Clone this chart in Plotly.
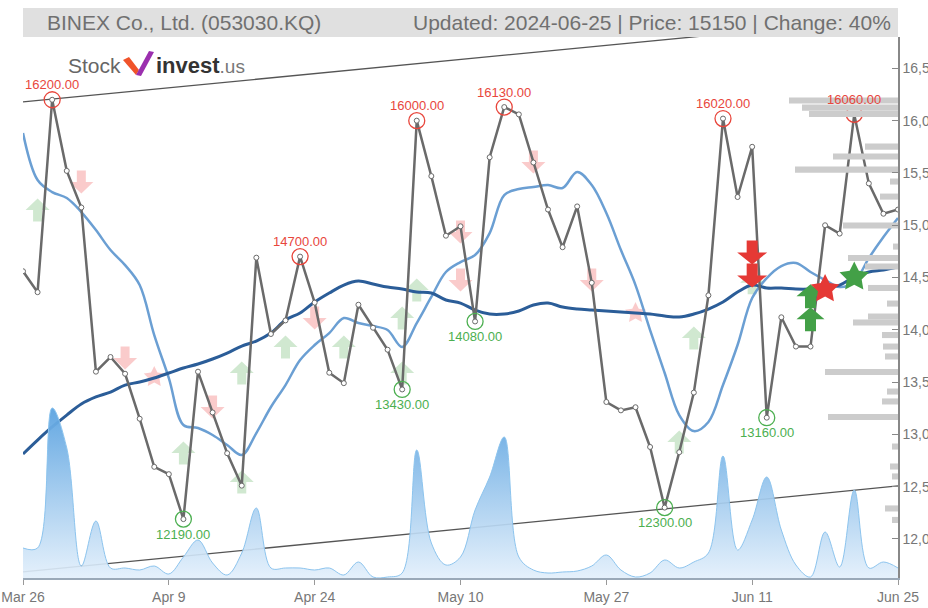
import math
import plotly.graph_objects as go

# ---------------- data ----------------
tick_labels = ["Mar 26", "Apr 9", "Apr 24", "May 10", "May 27", "Jun 11", "Jun 25"]
tick_idx = [0, 10, 20, 30, 40, 50, 60]

close = [14560, 14360, 16200, 15520, 15170, 13600, 13740, 13580, 13150, 12690,
         12620, 12190, 13600, 13210, 12820, 12510, 14690, 13960, 14090, 14700,
         14260, 13590, 13490, 14240, 14020, 13810, 13430, 16000, 15470, 14900,
         14990, 14080, 15650, 16130, 16060, 15600, 15150, 14790, 15180, 14450,
         13310, 13230, 13260, 12880, 12300, 12830, 13400, 14330, 16020, 15270,
         15750, 13160, 14120, 13840, 13840, 15000, 14920, 16060, 15400, 15110,
         15150]

ma_short = [15881, 15432, 15317, 15260, 15126, 14954, 14763, 14619, 14428, 13950,
            13539, 13090, 13061, 12994, 12899, 12803, 13013, 13262, 13472, 13711,
            13855, 13969, 14113, 14065, 14036, 13998, 13836, 14065, 14314, 14553,
            14648, 14715, 14925, 15289, 15346, 15365, 15384, 15356, 15509, 15384,
            15117, 14763, 14428, 13998, 13587, 13185, 13032, 13119, 13472, 13855,
            14304, 14495, 14610, 14639, 14553, 14476, 14409, 14457, 14686, 14887,
            15069]

ma_long = [12813, 12946, 13071, 13185, 13291, 13358, 13405, 13472, 13501, 13539,
           13587, 13635, 13673, 13721, 13778, 13845, 13893, 13969, 14094, 14161,
           14266, 14352, 14428, 14466, 14438, 14409, 14390, 14361, 14352, 14285,
           14256, 14189, 14151, 14151, 14180, 14237, 14256, 14218, 14199, 14189,
           14180, 14170, 14161, 14151, 14132, 14122, 14151, 14199, 14266, 14361,
           14428, 14400, 14400, 14390, 14390, 14400, 14428, 14505, 14553, 14572,
           14600]

volume = [300, 300, 1700, 1300, 120, 570, 100, 100, 80, 120,
          40, 210, 380, 150, 30, 250, 700, 100, 100, 100,
          80, 100, 30, 160, 10, 10, 50, 1280, 350, 130,
          210, 680, 1010, 1410, 210, 80, 50, 60, 70, 120,
          230, 80, 10, 50, 180, 100, 160, 250, 1220, 280,
          580, 1010, 480, 130, 10, 460, 110, 880, 100, 160,
          100]

profile_prices = [16192, 16125, 16063, 15752, 15657, 15532, 15418, 15274, 14997, 14796,
                  14686, 14605, 14400, 14251, 14127, 14070, 13950, 13840, 13745, 13597,
                  13410, 13315, 13166, 12884, 12693, 12598, 12292, 12182]
profile_vols = [4360, 3840, 3560, 1320, 2600, 4120, 320, 720, 2200, 200,
                2000, 1320, 1200, 440, 1200, 1800, 640, 600, 520, 2920,
                440, 640, 2800, 240, 320, 240, 520, 240]

highs_idx = [2, 19, 27, 33, 48, 57]
lows_idx = [11, 26, 31, 44, 51]

trend_x = [0, 60]
trend_upper = [16180, 16990]
trend_lower = [11685, 12507]

pale_up_x = [1, 11, 15, 15, 18, 22, 26, 27, 26, 46, 45, 50]
pale_up_y = [15145, 12822, 13587, 12545, 13836, 13836, 14113, 14380, 13587, 13922, 12927, 14450]
pale_down_x = [4, 7, 13, 20, 30, 30, 35, 39]
pale_down_y = [15413, 13730, 13262, 14113, 14935, 14476, 15604, 14476]
pale_star_x = [9, 42]
pale_star_y = [13549, 14160]
sell_x = [50, 50]
sell_y = [14740, 14520]
buy_x = [54, 54]
buy_y = [14320, 14100]
sell_star_x = [55]
sell_star_y = [14390]
buy_star_x = [57]
buy_star_y = [14505]

# ---------------- layout geometry ----------------
W, H = 928, 608
L, R, T, B = 23, 30, 37, 30
PW, PH = W - L - R, H - T - B


def px(x):
    return (x - L) / PW


def py(y):
    return (H - B - y) / PH


def poly(pts):
    return "M" + " L".join(f"{a:.2f},{b:.2f}" for a, b in pts) + " Z"


def arrow_path(w, h, shaft, up=True):
    hw, hh = w / 2, h / 2
    head = h * 0.5
    s = shaft / 2
    pts = [(0, hh), (hw, hh - head), (s, hh - head), (s, -hh), (-s, -hh), (-s, hh - head), (-hw, hh - head)]
    if not up:
        pts = [(a, -b) for a, b in pts]
    return poly(pts)


def star_path(r_out, r_in):
    pts = []
    for k in range(10):
        r = r_out if k % 2 == 0 else r_in
        ang = math.pi / 2 + k * math.pi / 5
        pts.append((r * math.cos(ang), r * math.sin(ang)))
    return poly(pts)


def glyph(xv, yv, path, color, layer):
    return dict(type="path", xref="x", yref="y", xsizemode="pixel", ysizemode="pixel",
                xanchor=xv, yanchor=yv, path=path, fillcolor=color,
                line=dict(width=0), layer=layer)


x = list(range(len(close)))
fig = go.Figure()

# volume profile (horizontal bars from the right)
fig.add_trace(go.Bar(x=profile_vols, y=profile_prices, orientation="h",
                     xaxis="x2", yaxis="y", width=58,
                     marker=dict(color="#cccccc", line=dict(width=0)),
                     hoverinfo="skip", showlegend=False))

# volume area
fig.add_trace(go.Scatter(x=x, y=volume, yaxis="y2", mode="lines",
                         line=dict(color="#8cc4ee", width=1, shape="spline", smoothing=1.0),
                         fill="tozeroy",
                         fillgradient=dict(type="vertical",
                                           colorscale=[[0, "rgba(226,239,251,0.9)"],
                                                       [1, "rgba(95,165,225,0.95)"]],
                                           start=0, stop=1650),
                         hoverinfo="skip", showlegend=False))

# trend lines
for ty in (trend_upper, trend_lower):
    fig.add_trace(go.Scatter(x=trend_x, y=ty, mode="lines",
                             line=dict(color="#555555", width=1.3),
                             hoverinfo="skip", showlegend=False))

# moving averages
fig.add_trace(go.Scatter(x=x, y=ma_short, mode="lines",
                         line=dict(color="#6b9fd3", width=2.5, shape="spline"),
                         hoverinfo="skip", showlegend=False))
fig.add_trace(go.Scatter(x=x, y=ma_long, mode="lines",
                         line=dict(color="#2b5d98", width=3, shape="spline"),
                         hoverinfo="skip", showlegend=False))

# price
fig.add_trace(go.Scatter(x=x, y=close, mode="lines+markers",
                         line=dict(color="#6a6a6a", width=2.5),
                         marker=dict(size=5, color="white", line=dict(color="#6a6a6a", width=1)),
                         hoverinfo="skip", showlegend=False))

# high / low circles
fig.add_trace(go.Scatter(x=highs_idx, y=[close[i] for i in highs_idx], mode="markers",
                         marker=dict(symbol="circle-open", size=16, color="#e8463c", line=dict(width=1.3)),
                         hoverinfo="skip", showlegend=False))
fig.add_trace(go.Scatter(x=lows_idx, y=[close[i] for i in lows_idx], mode="markers",
                         marker=dict(symbol="circle-open", size=16, color="#4caf50", line=dict(width=1.3)),
                         hoverinfo="skip", showlegend=False))

shapes = [
    dict(type="rect", xref="paper", yref="paper", x0=0, x1=1, y0=py(37), y1=py(8),
         fillcolor="#e0e0e0", line=dict(width=0), layer="below"),
    dict(type="path", xref="paper", yref="paper",
         path=f"M{px(123)},{py(60)} L{px(129)},{py(57)} L{px(139)},{py(70)} L{px(136)},{py(75)} Z",
         fillcolor="#f0532a", line=dict(width=0)),
    dict(type="path", xref="paper", yref="paper",
         path=f"M{px(136)},{py(75)} L{px(149)},{py(51)} L{px(154)},{py(52)} L{px(141)},{py(76)} Z",
         fillcolor="#9b2fae", line=dict(width=0)),
]

pale_green = "rgba(150,205,150,0.45)"
pale_red = "rgba(245,140,140,0.45)"
for xv, yv in zip(pale_up_x, pale_up_y):
    shapes.append(glyph(xv, yv, arrow_path(24, 23, 9, True), pale_green, "below"))
for xv, yv in zip(pale_down_x, pale_down_y):
    shapes.append(glyph(xv, yv, arrow_path(24, 23, 9, False), pale_red, "below"))
for xv, yv in zip(pale_star_x, pale_star_y):
    shapes.append(glyph(xv, yv, star_path(11, 5.5), pale_red, "below"))
for xv, yv in zip(buy_x, buy_y):
    shapes.append(glyph(xv, yv, arrow_path(28, 24, 11, True), "#43a047", "above"))
for xv, yv in zip(sell_x, sell_y):
    shapes.append(glyph(xv, yv, arrow_path(30, 24, 11, False), "#e53935", "above"))
for xv, yv in zip(sell_star_x, sell_star_y):
    shapes.append(glyph(xv, yv, star_path(15, 7.5), "#e53935", "above"))
for xv, yv in zip(buy_star_x, buy_star_y):
    shapes.append(glyph(xv, yv, star_path(15.5, 7.8), "#43a047", "above"))

annotations = []
for i in highs_idx:
    annotations.append(dict(x=i, y=close[i], xref="x", yref="y", text=f"{close[i]:.2f}",
                            showarrow=False, yshift=15, font=dict(size=13, color="#e8463c",
                                                                  family="Liberation Sans")))
for i in lows_idx:
    annotations.append(dict(x=i, y=close[i], xref="x", yref="y", text=f"{close[i]:.2f}",
                            showarrow=False, yshift=-15, font=dict(size=13, color="#4caf50",
                                                                   family="Liberation Sans")))

# header
annotations.append(dict(x=px(45), y=py(22), xref="paper", yref="paper", xanchor="left", yanchor="middle",
                        text="BINEX Co., Ltd. (053030.KQ)", showarrow=False,
                        font=dict(size=21, color="#707070", family="Liberation Sans")))
annotations.append(dict(x=px(893), y=py(22), xref="paper", yref="paper", xanchor="right", yanchor="middle",
                        text="Updated: 2024-06-25 | Price: 15150 | Change: 40%", showarrow=False,
                        font=dict(size=21, color="#707070", family="Liberation Sans")))
# logo
annotations.append(dict(x=px(66), y=py(65), xref="paper", yref="paper", xanchor="left", yanchor="middle",
                        text="Stock", showarrow=False,
                        font=dict(size=21, color="#666666", family="Liberation Sans")))
annotations.append(dict(x=px(154), y=py(65), xref="paper", yref="paper", xanchor="left", yanchor="middle",
                        text="<b>invest</b><span style='color:#777777;font-size:19px'>.us</span>",
                        showarrow=False,
                        font=dict(size=22, color="#333333", family="Liberation Sans")))

fig.update_layout(
    width=W, height=H, margin=dict(l=L, r=R, t=T, b=B, autoexpand=False),
    paper_bgcolor="white", plot_bgcolor="white",
    showlegend=False, annotations=annotations, shapes=shapes,
    xaxis=dict(range=[0, 60], tickvals=tick_idx, ticktext=tick_labels, showgrid=False,
               zeroline=False, showline=True, linecolor="#9aa9b8", linewidth=1.5,
               ticks="outside", ticklen=5, tickcolor="#999999", automargin=False,
               tickfont=dict(size=14, color="#777777", family="Liberation Sans")),
    xaxis2=dict(overlaying="x", range=[35000, 0], visible=False),
    yaxis=dict(side="right", range=[11627, 16800], tickvals=list(range(12000, 16501, 500)),
               tickformat=",d", showgrid=False, zeroline=False, showline=True, automargin=False,
               linecolor="#888888", linewidth=1.5, ticks="inside", ticklen=6, tickcolor="#888888",
               tickfont=dict(size=14, color="#777777", family="Liberation Sans")),
    yaxis2=dict(overlaying="y", range=[0, 5410], visible=False),
)

fig.write_html("out.html", config={"displayModeBar": False},
               post_script="document.body.style.margin='0';document.body.style.overflow='hidden';")
